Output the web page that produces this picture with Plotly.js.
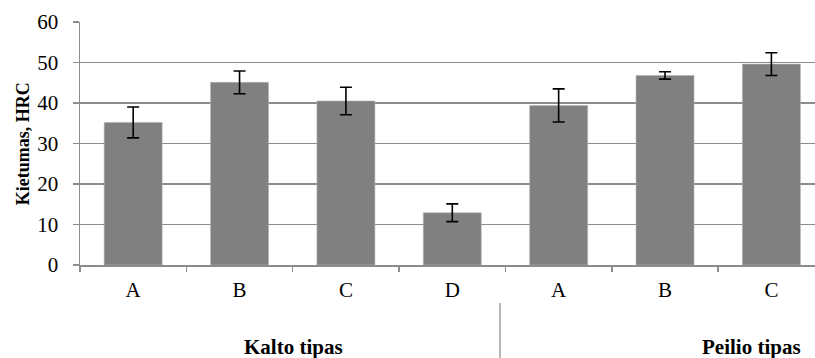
<!DOCTYPE html>
<html><head><meta charset="utf-8">
<script src="https://cdn.plot.ly/plotly-3.0.1.min.js"></script>
<style>body{margin:0;background:#fff}#c{width:815px;height:358px}</style>
</head><body><div id="c"></div>
<script>
const categories = ["A", "B", "C", "D", "A", "B", "C"];
const groups = ["Kalto tipas", "Peilio tipas"];
const hardness = [35.2, 45.1, 40.5, 12.9, 39.4, 46.8, 49.6];
const errors = [3.8, 2.8, 3.4, 2.2, 4.1, 0.9, 2.8];
const yTicks = [0, 10, 20, 30, 40, 50, 60];

const idx = categories.map((_, i) => i);
const grid = '#8c8c8c';
const serif = 'Liberation Serif';

const trace = {
  type: 'bar', x: idx, y: hardness, width: 0.545,
  marker: {color: '#808080', line: {color: '#b0b0b0', width: 0.6}},
  error_y: {type: 'data', array: errors, visible: true, color: '#000', thickness: 1.6, width: 6},
  hoverinfo: 'none'
};

const layout = {
  width: 815, height: 358,
  margin: {l: 80, r: 0, t: 22, b: 93},
  paper_bgcolor: '#fff', plot_bgcolor: '#fff',
  showlegend: false,
  font: {family: serif, color: '#000'},
  xaxis: {
    range: [-0.5, 6.41], tickvals: idx, ticktext: categories,
    ticks: '', showgrid: false, zeroline: false,
    showline: true, linecolor: grid, linewidth: 1.5,
    tickfont: {size: 21, family: serif, color: '#000'},
    ticklabelstandoff: 5,
    minor: {tick0: -0.5, dtick: 1, ticks: 'outside', ticklen: 5, tickcolor: grid, tickwidth: 1.5, showgrid: false}
  },
  yaxis: {
    range: [0, 60], tickvals: yTicks, ticktext: yTicks.map(String),
    showgrid: true, gridcolor: grid, gridwidth: 1.5, zeroline: false,
    showline: true, linecolor: grid, linewidth: 1.5,
    ticks: 'outside', ticklen: 6, tickcolor: grid, tickwidth: 1.5,
    tickfont: {size: 21, family: serif, color: '#000'},
    ticklabelstandoff: 10
  },
  shapes: [{type: 'line', xref: 'paper', yref: 'paper', x0: 0.5714, x1: 0.5714, y0: -0.156, y1: -0.383,
            line: {color: '#a0a0a0', width: 1.5}}],
  annotations: [
    {text: '<b>Kietumas, HRC</b>', xref: 'paper', yref: 'paper', x: -0.078, y: 0.5, textangle: -90,
     showarrow: false, font: {size: 18, family: serif, color: '#000'}, xanchor: 'center', yanchor: 'middle'},
    {text: '<b>' + groups[0] + '</b>', xref: 'paper', yref: 'paper', x: 0.2898, y: -0.337,
     showarrow: false, font: {size: 21, family: serif, color: '#000'}, xanchor: 'center', yanchor: 'middle'},
    {text: '<b>' + groups[1] + '</b>', xref: 'paper', yref: 'paper', x: 0.913, y: -0.337,
     showarrow: false, font: {size: 21, family: serif, color: '#000'}, xanchor: 'center', yanchor: 'middle'}
  ]
};

Plotly.newPlot('c', [trace], layout, {staticPlot: true, displayModeBar: false});
</script></body></html>
